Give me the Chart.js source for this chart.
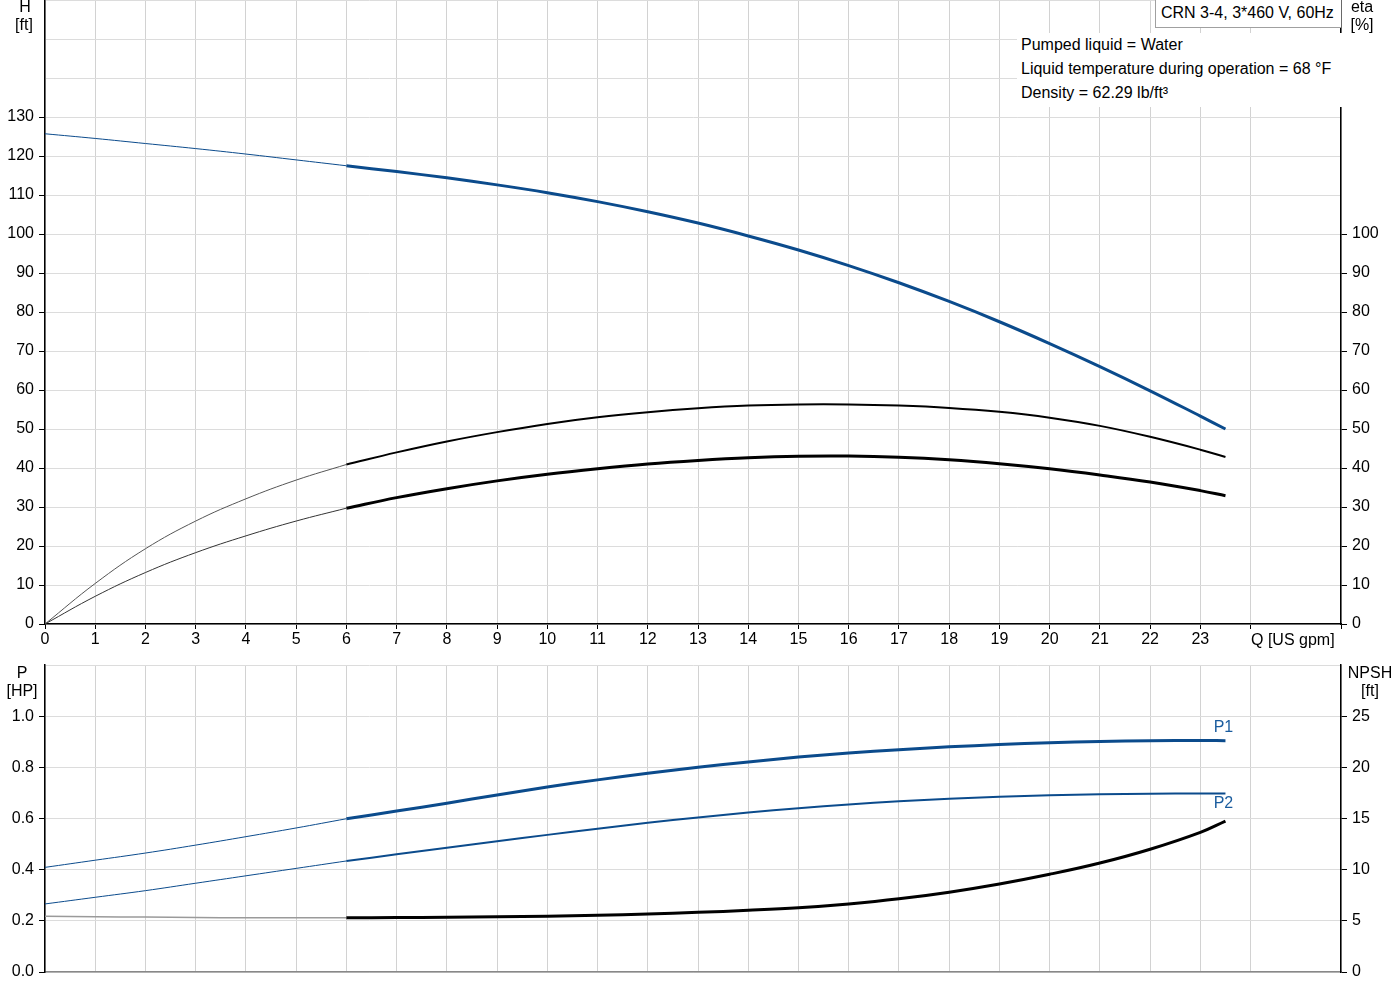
<!DOCTYPE html>
<html>
<head>
<meta charset="utf-8">
<script src="https://cdn.jsdelivr.net/npm/chart.js@4.4.1/dist/chart.umd.min.js"></script>
<style>
  body { margin: 0; background: #fff; font-family: "Liberation Sans", Arial, sans-serif; font-size: 16px; color: #000; }
  #wrap { position: relative; width: 1400px; height: 1000px; overflow: hidden; }
  canvas { position: absolute; left: 0; }
  .t { position: absolute; white-space: nowrap; line-height: 18px; }
  .c { transform: translateX(-50%); }
  #model { position: absolute; left: 1155px; top: -1px; width: 180px; height: 27px; border: 1px solid #a0a0a0; border-right: none; background: #fff; padding-left: 5px; line-height: 26px; }
  #info { position: absolute; left: 1017px; top: 33px; width: 323px; height: 74px; background: #fff; padding-left: 4px; line-height: 24px; }
</style>
</head>
<body>
<div id="wrap">
  <canvas id="qhChart" width="1400" height="655" style="top:0"></canvas>
  <canvas id="pChart" width="1400" height="360" style="top:640px"></canvas>

  <div class="t c" style="left:25px;top:-2px">H</div>
  <div class="t c" style="left:24px;top:16px">[ft]</div>
  <div class="t c" style="left:1362px;top:-2px">eta</div>
  <div class="t c" style="left:1362px;top:16px">[%]</div>
  <div class="t" style="left:1251px;top:631px">Q [US gpm]</div>
  <div class="t c" style="left:22px;top:664px">P</div>
  <div class="t c" style="left:22px;top:682px">[HP]</div>
  <div class="t c" style="left:1370px;top:664px">NPSH</div>
  <div class="t c" style="left:1370px;top:682px">[ft]</div>

  <div id="model">CRN 3-4, 3*460 V, 60Hz</div>
  <div id="info">
    Pumped liquid = Water<br>
    Liquid temperature during operation = 68 °F<br>
    Density = 62.29 lb/ft³
  </div>
</div>

<script>
// flow points, US gpm
const qThin = [0, 1, 2, 3, 4, 5, 6];
const qMain = [6, 7, 8, 9, 10, 11, 12, 13, 14, 15, 16, 17, 18, 19, 20, 21, 22, 23, 23.5];

// head, ft
const headThin = [125.7, 124.5, 123.2, 121.9, 120.5, 119.0, 117.5];
const headMain = [117.5, 116.0, 114.4, 112.6, 110.6, 108.3, 105.7, 102.8, 99.5, 95.9, 91.9, 87.5, 82.7, 77.5, 71.9, 66.0, 59.8, 53.3, 50.0];

// efficiency, %
const etaPumpThin = [0, 10.4, 19.3, 26.4, 32.1, 36.9, 40.9];
const etaPumpMain = [40.9, 44.0, 46.8, 49.2, 51.3, 53.0, 54.3, 55.3, 56.0, 56.3, 56.3, 56.0, 55.4, 54.4, 52.9, 50.8, 48.0, 44.7, 42.8];
const etaTotalThin = [0, 7.1, 13.2, 18.3, 22.6, 26.4, 29.7];
const etaTotalMain = [29.7, 32.4, 34.7, 36.7, 38.4, 39.8, 41.0, 41.9, 42.6, 43.0, 43.05, 42.75, 42.1, 41.1, 39.8, 38.2, 36.4, 34.2, 32.9];

// power, HP
const p1Thin = [0.409, 0.437, 0.465, 0.496, 0.529, 0.563, 0.599];
const p1Main = [0.599, 0.629, 0.660, 0.692, 0.723, 0.751, 0.777, 0.800, 0.821, 0.840, 0.856, 0.869, 0.880, 0.889, 0.896, 0.901, 0.904, 0.905, 0.904];
const p2Thin = [0.266, 0.292, 0.318, 0.347, 0.376, 0.405, 0.434];
const p2Main = [0.434, 0.460, 0.486, 0.511, 0.536, 0.560, 0.583, 0.604, 0.623, 0.640, 0.655, 0.667, 0.677, 0.685, 0.691, 0.695, 0.697, 0.698, 0.698];

// NPSH, ft
const npshThin = [5.45, 5.40, 5.37, 5.33, 5.30, 5.30, 5.30];
const npshMain = [5.30, 5.32, 5.35, 5.40, 5.46, 5.55, 5.67, 5.83, 6.03, 6.28, 6.65, 7.15, 7.8, 8.6, 9.55, 10.65, 12.0, 13.65, 14.75];

const BLUE = '#0b4b8c';
const FONT = { family: '"Liberation Sans", Arial, sans-serif', size: 16 };
Chart.defaults.font = FONT;
Chart.defaults.color = '#000';

function pts(qs, vs) {
  return qs.map((q, i) => ({ x: q, y: vs[i] }));
}

function line(qs, vs, color, width, axis, extra) {
  return Object.assign({
    data: pts(qs, vs),
    borderColor: color,
    borderWidth: width,
    pointRadius: 0,
    tension: 0.4,
    yAxisID: axis,
    fill: false
  }, extra || {});
}

function fixWidth(w) {
  return function (scale) { scale.width = w; scale.paddingTop = 0; scale.paddingBottom = 0; };
}
function fixHeight(h) {
  return function (scale) { scale.height = h; };
}

// P1 / P2 tags at the end of the curve
const tagPlugin = {
  id: 'tags',
  afterDatasetsDraw(chart) {
    const ctx = chart.ctx;
    chart.data.datasets.forEach((ds, i) => {
      if (!ds.tag) return;
      const meta = chart.getDatasetMeta(i);
      const p = meta.data[meta.data.length - 1];
      ctx.save();
      ctx.font = '16px "Liberation Sans", Arial, sans-serif';
      ctx.fillStyle = '#1a5c9e';
      ctx.textAlign = 'center';
      ctx.textBaseline = 'middle';
      ctx.fillText(ds.tag, p.x - 2, p.y + ds.tagDy);
      ctx.restore();
    });
  }
};

const xCommon = {
  type: 'linear',
  min: 0,
  max: 25.8,
  ticks: { stepSize: 1, autoSkip: false, maxRotation: 0 }
};

new Chart(document.getElementById('qhChart'), {
  type: 'line',
  data: {
    datasets: [
      line(qMain, headMain, BLUE, 3, 'y'),
      line(qThin, headThin, BLUE, 1, 'y'),
      line(qMain, etaPumpMain, '#000', 2, 'y1'),
      line(qThin, etaPumpThin, '#555', 1, 'y1'),
      line(qMain, etaTotalMain, '#000', 3, 'y1'),
      line(qThin, etaTotalThin, '#333', 1, 'y1')
    ]
  },
  options: {
    responsive: false,
    animation: false,
    devicePixelRatio: 1,
    layout: { padding: 0 },
    plugins: { legend: { display: false }, tooltip: { enabled: false } },
    scales: {
      x: Object.assign({}, xCommon, {
        ticks: {
          stepSize: 1, autoSkip: false, maxRotation: 0, padding: 1,
          callback: v => (Number.isInteger(v) && v <= 23 ? String(v) : '')
        },
        grid: { color: '#d2d2d2', tickLength: 5, tickColor: '#000' },
        border: { color: '#000', width: 1.5 },
        afterFit: fixHeight(31)
      }),
      y: {
        position: 'left',
        min: 0, max: 160,
        ticks: { stepSize: 10, padding: 5, callback: v => (v <= 130 ? String(v) : '') },
        grid: {
          color: '#dcdcdc', tickLength: 6,
          tickColor: c => (c.tick && c.tick.value <= 130 ? '#000' : 'rgba(0,0,0,0)')
        },
        border: { color: '#000', width: 1.5 },
        afterFit: fixWidth(45)
      },
      y1: {
        position: 'right',
        min: 0, max: 160,
        ticks: { stepSize: 10, padding: 5, callback: v => (v <= 100 ? String(v) : '') },
        grid: {
          drawOnChartArea: false, tickLength: 6,
          tickColor: c => (c.tick && c.tick.value <= 100 ? '#000' : 'rgba(0,0,0,0)')
        },
        border: { color: '#000', width: 1.5 },
        afterFit: fixWidth(59)
      }
    }
  }
});

new Chart(document.getElementById('pChart'), {
  type: 'line',
  data: {
    datasets: [
      line(qMain, p1Main, BLUE, 3, 'y', { tag: 'P1', tagDy: -13 }),
      line(qThin, p1Thin, BLUE, 1, 'y'),
      line(qMain, p2Main, BLUE, 2, 'y', { tag: 'P2', tagDy: 10 }),
      line(qThin, p2Thin, BLUE, 1, 'y'),
      line(qMain, npshMain, '#000', 3, 'y1'),
      line(qThin, npshThin, '#9a9a9a', 1.5, 'y1')
    ]
  },
  options: {
    responsive: false,
    animation: false,
    devicePixelRatio: 1,
    layout: { padding: { top: 25, left: 0, right: 0, bottom: 0 } },
    plugins: { legend: { display: false }, tooltip: { enabled: false } },
    scales: {
      x: Object.assign({}, xCommon, {
        ticks: { display: false, stepSize: 1, autoSkip: false },
        grid: { color: '#d2d2d2', drawTicks: false },
        border: { color: '#888', width: 1.5 },
        afterFit: fixHeight(28)
      }),
      y: {
        position: 'left',
        min: 0, max: 1.2,
        ticks: { stepSize: 0.2, padding: 5, callback: v => (v < 1.05 ? v.toFixed(1) : '') },
        grid: {
          color: '#dcdcdc', tickLength: 6,
          tickColor: c => (c.tick && c.tick.value < 1.05 ? '#000' : 'rgba(0,0,0,0)')
        },
        border: { color: '#000', width: 1.5 },
        afterFit: fixWidth(45)
      },
      y1: {
        position: 'right',
        min: 0, max: 30,
        ticks: { stepSize: 5, padding: 5, callback: v => (v <= 25 ? String(v) : '') },
        grid: {
          drawOnChartArea: false, tickLength: 6,
          tickColor: c => (c.tick && c.tick.value <= 25 ? '#000' : 'rgba(0,0,0,0)')
        },
        border: { color: '#000', width: 1.5 },
        afterFit: fixWidth(59)
      }
    }
  },
  plugins: [tagPlugin]
});
</script>
</body>
</html>
